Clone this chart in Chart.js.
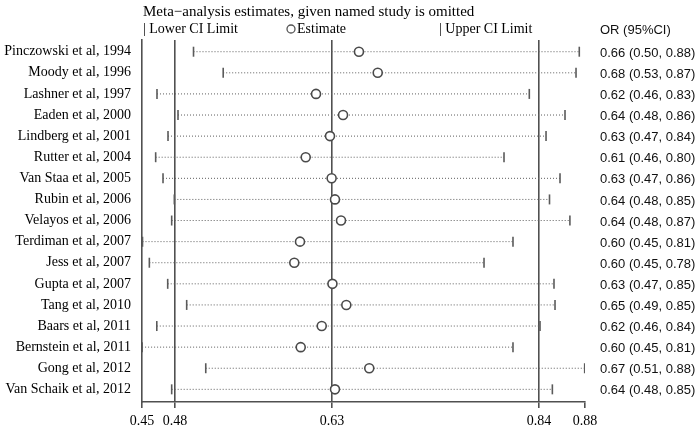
<!DOCTYPE html>
<html>
<head>
<meta charset="utf-8">
<script src="https://cdn.jsdelivr.net/npm/chart.js@4/dist/chart.umd.min.js"></script>
<style>
  body { margin: 0; background: #fff; }
  #chart { display: block; }
</style>
</head>
<body>
<canvas id="chart" width="700" height="429"></canvas>
<script>
// studies, each one omitted in turn
const studies = [
  "Pinczowski et al, 1994",
  "Moody et al, 1996",
  "Lashner et al, 1997",
  "Eaden et al, 2000",
  "Lindberg et al, 2001",
  "Rutter et al, 2004",
  "Van Staa et al, 2005",
  "Rubin et al, 2006",
  "Velayos et al, 2006",
  "Terdiman et al, 2007",
  "Jess et al, 2007",
  "Gupta et al, 2007",
  "Tang et al, 2010",
  "Baars et al, 2011",
  "Bernstein et al, 2011",
  "Gong et al, 2012",
  "Van Schaik et al, 2012",
];
const estimates = [0.6592, 0.6776, 0.6171, 0.6436, 0.6308, 0.6070, 0.6324, 0.6357, 0.6416,
  0.6014, 0.5958, 0.6332, 0.6468, 0.6227, 0.6021, 0.6693, 0.6357];
const lowerCI = [0.4970, 0.5261, 0.4612, 0.4818, 0.4720, 0.4599, 0.4671, 0.4782, 0.4756,
  0.4470, 0.4537, 0.4717, 0.4903, 0.4610, 0.4466, 0.5090, 0.4756];
const upperCI = [0.8752, 0.8720, 0.8262, 0.8612, 0.8426, 0.8014, 0.8563, 0.8460, 0.8660,
  0.8102, 0.7818, 0.8504, 0.8514, 0.8367, 0.8102, 0.8805, 0.8488];

// x axis: range ends plus the pooled lower / estimate / upper
const xTicks = [0.4465, 0.4789, 0.6328, 0.8357, 0.8808];

const lineGray = "#505050";
const serif = '"Liberation Serif", "DejaVu Serif", serif';
const sans = '"Liberation Sans", Arial, sans-serif';

const rowY = studies.map((_, i) => i + 1);

// dotted CI segments, broken with NaN points
const segments = [];
rowY.forEach((y, i) => {
  segments.push({ x: lowerCI[i], y: y }, { x: upperCI[i], y: y }, { x: NaN, y: NaN });
});

const textPlugin = {
  id: "forestText",
  afterDraw(chart) {
    const ctx = chart.ctx;
    const yScale = chart.scales.y;
    ctx.save();
    ctx.fillStyle = "#000";
    ctx.textBaseline = "middle";
    ctx.textAlign = "left";
    ctx.font = "15px " + serif;
    ctx.fillText("Meta\u2212analysis estimates, given named study is omitted", 143, 12);
    ctx.font = "14px " + serif;
    ctx.fillText("| Lower CI Limit", 143, 29);
    ctx.fillText("Estimate", 297, 29);
    ctx.fillText("| Upper CI Limit", 439, 29);

    ctx.strokeStyle = "#555";
    ctx.lineWidth = 1.3;
    ctx.beginPath();
    ctx.arc(291, 29, 4, 0, Math.PI * 2);
    ctx.stroke();

    ctx.fillStyle = "#111";
    ctx.font = "13px " + sans;
    ctx.fillText("OR (95%CI)", 600, 30);
    rowY.forEach((y, i) => {
      const txt = estimates[i].toFixed(2) + " (" + lowerCI[i].toFixed(2) + ", " + upperCI[i].toFixed(2) + ")";
      ctx.fillText(txt, 600, yScale.getPixelForValue(y) + 1.5);
    });
    ctx.restore();
  },
};

new Chart(document.getElementById("chart"), {
  type: "scatter",
  data: {
    datasets: [
      {
        // estimates
        data: rowY.map((y, i) => ({ x: estimates[i], y: y })),
        pointStyle: "circle",
        pointRadius: 4.5,
        pointBackgroundColor: "#fff",
        pointBorderColor: "#4a4a4a",
        pointBorderWidth: 1.6,
        order: 0,
      },
      {
        // lower limits
        data: rowY.map((y, i) => ({ x: lowerCI[i], y: y })),
        pointStyle: "line",
        pointRotation: 90,
        pointRadius: 5,
        pointBorderColor: "#5a5a5a",
        pointBorderWidth: 1.6,
        order: 1,
      },
      {
        // upper limits
        data: rowY.map((y, i) => ({ x: upperCI[i], y: y })),
        pointStyle: "line",
        pointRotation: 90,
        pointRadius: 5,
        pointBorderColor: "#5a5a5a",
        pointBorderWidth: 1.6,
        order: 1,
      },
      {
        data: segments,
        showLine: true,
        spanGaps: false,
        pointRadius: 0,
        borderColor: "#5e5e5e",
        borderWidth: 1,
        borderDash: [1, 2],
        order: 2,
      },
    ],
  },
  options: {
    responsive: false,
    animation: false,
    layout: { padding: { top: 40, right: 115, left: 0, bottom: 0 } },
    plugins: {
      legend: { display: false },
      tooltip: { enabled: false },
    },
    scales: {
      x: {
        type: "linear",
        min: xTicks[0],
        max: xTicks[xTicks.length - 1],
        afterBuildTicks: (scale) => {
          scale.ticks = xTicks.map((v) => ({ value: v }));
        },
        afterFit: (scale) => {
          scale.height = 27;
        },
        ticks: {
          autoSkip: false,
          maxRotation: 0,
          padding: 5,
          color: "#000",
          font: { family: serif, size: 14 },
          callback: (v) => Number(v).toFixed(2),
        },
        grid: {
          color: (c) => (c.index > 0 && c.index < xTicks.length - 1 ? lineGray : "rgba(0,0,0,0)"),
          lineWidth: 1.6,
          tickColor: lineGray,
          tickWidth: 1.6,
          tickLength: 6,
        },
        border: { display: true, color: lineGray, width: 1.6 },
      },
      y: {
        type: "linear",
        reverse: true,
        min: 0.445,
        max: 17.6,
        afterBuildTicks: (scale) => {
          scale.ticks = rowY.map((v) => ({ value: v }));
        },
        afterFit: (scale) => {
          scale.width = 142;
        },
        ticks: {
          autoSkip: false,
          padding: 11,
          color: "#000",
          font: { family: serif, size: 14 },
          callback: (v) => studies[v - 1],
        },
        grid: { display: false, drawTicks: false },
        border: { display: true, color: lineGray, width: 1.6 },
      },
    },
  },
  plugins: [textPlugin],
});
</script>
</body>
</html>
